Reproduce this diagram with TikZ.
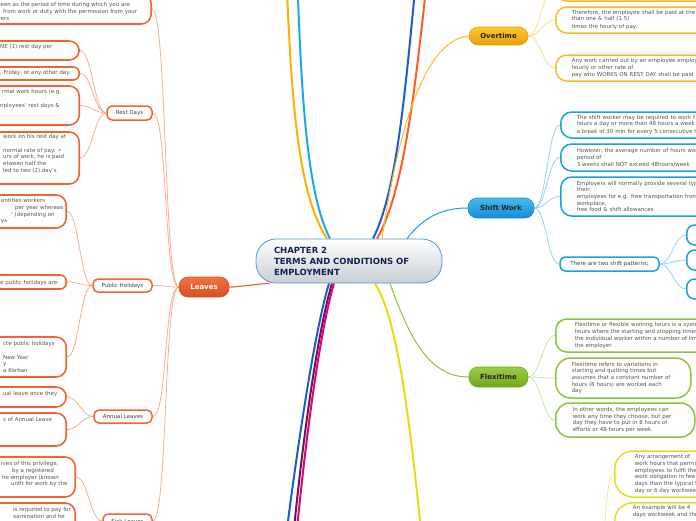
\documentclass[tikz,border=0pt]{standalone}
\usepackage{fontspec}
\setmainfont{DejaVu Sans}
\usetikzlibrary{backgrounds}

\definecolor{txtgray}{RGB}{85,85,85}
\definecolor{leafline}{RGB}{242,100,50}
\definecolor{leafsoft}{RGB}{250,172,145}
\definecolor{leaftop}{RGB}{242,115,65}
\definecolor{leafbot}{RGB}{214,78,32}
\definecolor{otline}{RGB}{253,186,35}
\definecolor{otsoft}{RGB}{254,216,135}
\definecolor{ottop}{RGB}{252,200,50}
\definecolor{otbot}{RGB}{232,160,5}
\definecolor{shline}{RGB}{28,160,228}
\definecolor{shsoft}{RGB}{145,212,244}
\definecolor{shtop}{RGB}{70,185,238}
\definecolor{shbot}{RGB}{22,140,210}
\definecolor{fxline}{RGB}{140,196,60}
\definecolor{fxsoft}{RGB}{200,228,160}
\definecolor{fxtop}{RGB}{155,205,70}
\definecolor{fxbot}{RGB}{112,168,28}
\definecolor{ywline}{RGB}{240,216,30}
\definecolor{ywsoft}{RGB}{245,230,130}
\definecolor{centreline}{RGB}{80,150,210}
\definecolor{centrefill}{RGB}{200,206,212}
\definecolor{centretext}{RGB}{20,35,80}
\definecolor{gold}{RGB}{255,176,0}
\definecolor{sky}{RGB}{22,170,235}
\definecolor{royal}{RGB}{28,92,210}
\definecolor{flame}{RGB}{255,92,40}
\definecolor{plum}{RGB}{100,25,95}
\definecolor{rose}{RGB}{232,0,110}
\definecolor{lemon}{RGB}{240,215,20}

\begin{document}
\begin{tikzpicture}[x=1pt, y=-1pt,
    txt/.style={font=\fontsize{5.5}{6.7}\selectfont, text=txtgray},
    centre/.style={draw=centreline, line width=0.8pt, rounded corners=20pt, top color=white, bottom color=centrefill,
      text=centretext, font=\fontsize{8.5}{11}\selectfont\bfseries, align=left, text width=150pt, inner xsep=18pt, minimum height=44pt},
    topic/.style={rounded corners=9pt, line width=0.6pt, inner sep=0pt, font=\fontsize{7}{8}\selectfont\bfseries},
    subtopic/.style={txt, text=black!75, draw=#1, line width=1.5pt, fill=white, rounded corners=5pt, inner sep=0pt},
    lbox/.style={draw=leafline, line width=1.6pt, rounded corners=10pt, fill=white, minimum width=220pt, anchor=east, inner sep=0pt},
    ltext/.style={txt, align=left, anchor=north west, inner sep=0pt},
    rbox/.style={txt, draw=#1, line width=1.5pt, rounded corners=11pt, fill=white, align=left, anchor=west,
      text width=200pt, inner xsep=16pt, inner ysep=0pt},
    trunk/.style={line width=2pt},
    twig/.style={draw=#1, line width=0.8pt}]

  \useasboundingbox (0,0) rectangle (696,520);
  \clip (0,0) rectangle (696,520);

  % central topic
  \node[centre] (centre) at (349,261) {CHAPTER 2\\TERMS AND CONDITIONS OF\\EMPLOYMENT};

  % main topics
  \node[topic, top color=leaftop, bottom color=leafbot, draw=leafbot, text=white, minimum width=50pt, minimum height=20pt] (leaves) at (204,287) {Leaves};
  \node[topic, top color=ottop, bottom color=otbot, draw=otbot, text=black!85, minimum width=59pt, minimum height=18pt] (overtime) at (498.5,36) {Overtime};
  \node[topic, top color=shtop, bottom color=shbot, draw=shbot, text=black!85, minimum width=66pt, minimum height=20pt] (shift) at (501,208) {Shift Work};
  \node[topic, top color=fxtop, bottom color=fxbot, draw=fxbot, text=black!85, minimum width=59pt, minimum height=20pt] (flexi) at (498.5,377) {Flexitime};

  % off-page topics
  \coordinate (upgold) at (286,-30);
  \coordinate (upsky) at (297,-30);
  \coordinate (uproyal) at (417,-30);
  \coordinate (upflame) at (428,-30);
  \coordinate (downroyal) at (283,560);
  \coordinate (downplum) at (291,560);
  \coordinate (downrose) at (294,560);
  \coordinate (downlemon) at (424,560);
  \coordinate (fourday) at (598,560);

  % Leaves
  \node[lbox, minimum height=30pt] (defbox) at (152,9) {};
  \node[ltext] (deftext) at (0.5,2.3) {een as the period of time during which you are\\\hspace*{2.5pt}from work or duty with the permission from your\\ers};
  \node[subtopic=leafline, minimum width=45pt, minimum height=14pt] (restdays) at (129.5,113) {Rest Days};
  \node[subtopic=leafline, minimum width=59pt, minimum height=13pt] (pubhol) at (122.5,285.5) {Public Holidays};
  \node[subtopic=leafline, minimum width=58pt, minimum height=13pt] (annual) at (123,416.5) {Annual Leaves};
  \node[subtopic=leafline, minimum width=49pt, minimum height=14pt] (sick) at (127.5,521) {Sick Leaves};

  % Rest Days
  \node[lbox, minimum height=19pt] (rest1) at (80,50.5) {};
  \node[ltext] (rest1text) at (0,44.3) {NE (1) rest day per};
  \node[lbox, minimum height=13pt, rounded corners=6pt] (rest2) at (80,73.5) {};
  \node[ltext] (rest2text) at (0,70.3) {, Friday, or any other day.};
  \node[lbox, minimum height=39pt] (rest3) at (80,105.5) {};
  \node[ltext] (rest3text) at (0,89.3) {\hspace*{2pt}rmal work hours (e.g.\\[6.7pt]nployees' rest days \&};
  \node[lbox, minimum height=52pt] (rest4) at (80,158) {};
  \node[ltext] (rest4text) at (3,134.3) {work on his rest day at\\[6.7pt]normal rate of pay: •\\urs of work, he is paid\\etween half the\\led to two (2) day's};

  % Public Holidays
  \node[lbox, minimum height=33pt] (pub1) at (67,211.5) {};
  \node[ltext] (pub1text) at (1,198.3) {entitles workers\\\hspace*{14pt}per year whereas\\\hspace*{10pt}' (depending on\\ys};
  \node[lbox, minimum height=14pt, rounded corners=6pt] (pub2) at (67,282) {};
  \node[ltext] (pub2text) at (0,280.3) {e public holidays are:};
  \node[lbox, minimum height=40pt] (pub3) at (67,357) {};
  \node[ltext] (pub3text) at (3,341.3) {cte public holidays\\[6.7pt]New Year\\y\\a Korban};

  % Annual Leaves
  \node[lbox, minimum height=20pt] (ann1) at (67,397) {};
  \node[ltext] (ann1text) at (3,391.3) {ual leave once they};
  \node[lbox, minimum height=33pt] (ann2) at (67,429.5) {};
  \node[ltext] (ann2text) at (3,417.3) {s of Annual Leave};

  % Sick Leaves
  \node[lbox, minimum height=40pt] (sick1) at (76,477) {};
  \node[ltext] (sick1text) at (1,461.3) {ives of this privilege,\\\hspace*{11pt}by a registered\\\hspace*{1pt}he employer (known\\\hspace*{10pt}unfit for work by the};
  \node[lbox, minimum height=42pt] (sick2) at (76,524) {};
  \node[ltext] (sick2text) at (13,507.3) {is required to pay for\\xamination and he};

  % Overtime
  \node[rbox=otline, minimum height=30pt] (otrule) at (555,-14) {};
  \node[rbox=otline, minimum height=26pt] (otpay) at (555,20) {Therefore, the employee shall be paid at the\\[-1.5pt]than one \& half (1.5)\\[1.3pt]times the hourly of pay.};
  \node[rbox=otline, minimum height=26pt] (otrest) at (555,68) {Any work carried out by an employee employ\\hourly or other rate of\\pay who WORKS ON REST DAY shall be paid};

  % Shift Work
  \node[rbox=shline, minimum height=26pt] (shhours) at (560,125) {The shift worker may be required to work f\\[-1.5pt]hours a day or more than 48 hours a week\\[1.3pt]a break of 30 min for every 5 consecutive h};
  \node[rbox=shline, minimum height=27pt] (shaverage) at (560,157.5) {However, the average number of hours wor\\period of\\3 weeks shall NOT exceed 48hours/week};
  \node[rbox=shline, minimum height=39pt] (shbenefit) at (560,196.5) {Employers will normally provide several typ\\their\\employees for e.g. free transportation from\\workplace,\\free food \& shift allowances};
  \node[subtopic=shline, minimum width=99pt, minimum height=14pt] (patterns) at (609.5,264) {There are two shift patterns;};
  \node[rbox=shline, minimum height=20pt, rounded corners=8pt] (patterna) at (686,235) {};
  \node[rbox=shline, minimum height=20pt, rounded corners=8pt] (patternb) at (686,260) {};
  \node[rbox=shline, minimum height=20pt, rounded corners=8pt] (patternc) at (686,289) {};

  % Flexitime
  \node[rbox=fxline, minimum height=33pt, inner xsep=19pt] (fxdefine) at (555,335.5) {Flexitime or flexible working hours is a syste\\hours where the starting and stopping times\\the individual worker within a number of lim\\the employer};
  \node[rbox=fxline, minimum height=40pt, text width=103pt, rounded corners=15pt] (fxrefer) at (555,378) {Flexitime refers to variations in\\starting and quitting times but\\assumes that a constant number of\\hours (8 hours) are worked each\\day};
  \node[rbox=fxline, minimum height=34pt, text width=105pt, inner xsep=17pt, rounded corners=14pt] (fxwords) at (555,420) {In other words, the employees can\\work any time they choose, but per\\day they have to put in 8 hours of\\efforts or 48 hours per week.};

  % compressed workweek
  \node[rbox=ywline, minimum height=46pt, inner xsep=20pt, rounded corners=18pt] (ywarrange) at (614,474) {Any arrangement of\\work hours that permi\\employees to fulfil the\\work obligation in few\\days than the typical 5\\day or 6 day workwee};
  \node[rbox=ywline, anchor=north west, inner xsep=18pt, inner ysep=3pt, text depth=32pt, rounded corners=18pt] (ywexample) at (614,502) {An example will be 4\\days workweek and the};

  \begin{scope}[on background layer]
    % trunks
    \draw[trunk, gold] ([xshift=-22pt]centre.north) .. controls (295,190) and (291,80) .. (upgold);
    \draw[trunk, sky] ([xshift=-19pt]centre.north) .. controls (305,190) and (301,80) .. (upsky);
    \draw[trunk, royal] ([xshift=24pt]centre.north) .. controls (398,190) and (406,80) .. (uproyal);
    \draw[trunk, flame] ([xshift=28pt]centre.north) .. controls (405,190) and (416,80) .. (upflame);
    \draw[trunk, royal] ([xshift=-20pt]centre.south) .. controls (315,330) and (298,440) .. (downroyal);
    \draw[trunk, plum] ([xshift=-17pt]centre.south) .. controls (318,330) and (302,440) .. (downplum);
    \draw[trunk, rose] ([xshift=-15pt]centre.south) .. controls (320,330) and (305,440) .. (downrose);
    \draw[trunk, lemon] ([xshift=26pt]centre.south) .. controls (398,320) and (410,420) .. (downlemon);
    \draw[line width=1.2pt, leafline] ([xshift=14pt]centre.south west) .. controls (255,284) and (240,287) .. (leaves.east);
    \draw[line width=1pt, otline] ([xshift=33pt]centre.north) .. controls (395,150) and (420,40) .. (overtime.west);
    \draw[line width=1pt, shline] ([xshift=58pt]centre.north) .. controls (425,215) and (445,208) .. (shift.west);
    \draw[line width=1pt, fxline] ([xshift=41pt]centre.south) .. controls (410,340) and (430,377) .. (flexi.west);

    % Leaves branches
    \draw[twig=leafsoft] (leaves.west) .. controls +(-15,0) and +(15,0) .. (defbox.east);
    \draw[twig=leafsoft] (leaves.west) .. controls +(-15,0) and +(15,0) .. (restdays.east);
    \draw[twig=leafsoft] (leaves.west) .. controls +(-15,0) and +(15,0) .. (pubhol.east);
    \draw[twig=leafsoft] (leaves.west) .. controls +(-15,0) and +(15,0) .. (annual.east);
    \draw[twig=leafsoft] (leaves.west) .. controls +(-15,0) and +(15,0) .. (sick.east);
    \draw[twig=leafsoft] (restdays.west) .. controls +(-12,0) and +(12,0) .. (rest1.east);
    \draw[twig=leafsoft] (restdays.west) .. controls +(-12,0) and +(12,0) .. (rest2.east);
    \draw[twig=leafsoft] (restdays.west) .. controls +(-12,0) and +(12,0) .. (rest3.east);
    \draw[twig=leafsoft] (restdays.west) .. controls +(-12,0) and +(12,0) .. (rest4.east);
    \draw[twig=leafsoft] (pubhol.west) .. controls +(-12,0) and +(12,0) .. (pub1.east);
    \draw[twig=leafsoft] (pubhol.west) .. controls +(-12,0) and +(12,0) .. (pub2.east);
    \draw[twig=leafsoft] (pubhol.west) .. controls +(-12,0) and +(12,0) .. (pub3.east);
    \draw[twig=leafsoft] (annual.west) .. controls +(-12,0) and +(12,0) .. (ann1.east);
    \draw[twig=leafsoft] (annual.west) .. controls +(-12,0) and +(12,0) .. (ann2.east);
    \draw[twig=leafsoft] (sick.west) .. controls +(-12,0) and +(12,0) .. (sick1.east);
    \draw[twig=leafsoft] (sick.west) .. controls +(-12,0) and +(12,0) .. (sick2.east);

    % right branches
    \draw[twig=otsoft] (overtime.east) .. controls +(12,0) and +(-12,0) .. (otrule.west);
    \draw[twig=otsoft] (overtime.east) .. controls +(12,0) and +(-12,0) .. (otpay.west);
    \draw[twig=otsoft] (overtime.east) .. controls +(12,0) and +(-12,0) .. (otrest.west);
    \draw[twig=shsoft] (shift.east) .. controls +(12,0) and +(-12,0) .. (shhours.west);
    \draw[twig=shsoft] (shift.east) .. controls +(12,0) and +(-12,0) .. (shaverage.west);
    \draw[twig=shsoft] (shift.east) .. controls +(12,0) and +(-12,0) .. (shbenefit.west);
    \draw[twig=shsoft] (shift.east) .. controls +(12,0) and +(-12,0) .. (patterns.west);
    \draw[twig=shsoft] (patterns.east) .. controls +(12,0) and +(-12,0) .. (patterna.west);
    \draw[twig=shsoft] (patterns.east) .. controls +(12,0) and +(-12,0) .. (patternb.west);
    \draw[twig=shsoft] (patterns.east) .. controls +(12,0) and +(-12,0) .. (patternc.west);
    \draw[twig=fxsoft] (flexi.east) .. controls +(12,0) and +(-12,0) .. (fxdefine.west);
    \draw[twig=fxsoft] (flexi.east) .. controls +(12,0) and +(-12,0) .. (fxrefer.west);
    \draw[twig=fxsoft] (flexi.east) .. controls +(12,0) and +(-12,0) .. (fxwords.west);
    \draw[twig=ywsoft] (fourday) .. controls +(8,0) and +(-10,0) .. (ywarrange.west);
    \draw[twig=ywsoft] (fourday) .. controls +(8,0) and +(-10,0) .. (ywexample.west);
  \end{scope}
\end{tikzpicture}
\end{document}
